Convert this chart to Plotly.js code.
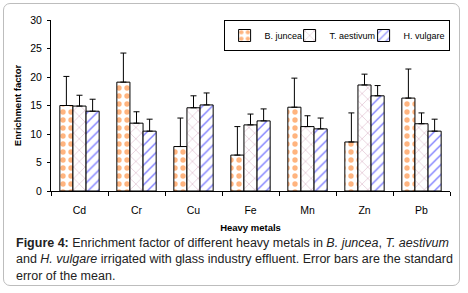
<!DOCTYPE html>
<html><head><meta charset="utf-8">
<script src="https://cdn.plot.ly/plotly-3.0.1.min.js"></script>
<style>
body{margin:0;padding:0;background:#fff;}
#wrap{position:relative;width:468px;height:293px;}
#chart{width:468px;height:293px;}
#frame{position:absolute;left:3px;top:3px;width:455px;height:281px;border:1.5px solid #bdbdbd;border-radius:7px;pointer-events:none;}
</style></head>
<body><div id="wrap"><div id="chart"></div><div id="frame"></div></div>
<script>
const metals = ['Cd','Cr','Cu','Fe','Mn','Zn','Pb'];
const bJuncea = [15.0, 19.1, 7.8, 6.3, 14.7, 8.6, 16.3];
const bJunceaErr = [5.1, 5.1, 5.0, 5.0, 5.1, 5.1, 5.1];
const tAestivum = [14.9, 11.9, 14.6, 11.6, 11.3, 18.6, 11.8];
const tAestivumErr = [1.9, 2.0, 2.1, 1.9, 1.9, 1.9, 1.9];
const hVulgare = [14.0, 10.5, 15.1, 12.3, 10.9, 16.7, 10.5];
const hVulgareErr = [2.1, 2.1, 2.1, 2.1, 1.9, 1.8, 2.1];
const zeros = metals.map(() => 0);

function series(name, y, err, color, shape, size, sol, lw) {
  return {
    type: 'bar', name: name, x: metals, y: y, legendwidth: lw,
    marker: {color: '#ffffff', line: {color: '#000', width: 1},
      pattern: {shape: shape, fgcolor: color, bgcolor: '#ffffff', size: size, solidity: sol, fillmode: 'overlay'}},
    error_y: {type: 'data', symmetric: false, array: err, arrayminus: zeros, color: '#000', thickness: 1, width: 3}
  };
}
const data = [
  series('B. juncea', bJuncea, bJunceaErr, '#ff6a00', '.', 8, 0.35, 20),
  series('T. aestivum', tAestivum, tAestivumErr, '#993366', 'x', 8, 0.1, 29),
  series('H. vulgare', hVulgare, hVulgareErr, '#0000ff', '/', 7, 0.2, 40)
];
const F = 'Liberation Sans, Arial, sans-serif';
const capFont = {family: F, size: 12.5, color: '#222'};
const layout = {
  width: 468, height: 293,
  margin: {l: 51, r: 18, t: 20, b: 102},
  paper_bgcolor: '#fff', plot_bgcolor: '#fff',
  barmode: 'group', bargap: 0.31, bargroupgap: 0,
  showlegend: true,
  legend: {orientation: 'h', x: 0.999, xanchor: 'right', y: 1.0, yanchor: 'top',
    bordercolor: '#000', borderwidth: 1, bgcolor: '#fff',
    font: {family: F, size: 9, color: '#000'}, itemwidth: 30, traceorder: 'normal'},
  xaxis: {type: 'category', showline: true, linecolor: '#000', linewidth: 1,
    ticks: 'outside', tickson: 'boundaries', ticklen: 4, tickcolor: '#000',
    ticklabelstandoff: 9,
    tickfont: {family: F, size: 10.5, color: '#000'}, showgrid: false,
    title: {text: '<b>Heavy metals</b>', font: {family: F, size: 9.5, color: '#000'}, standoff: 9}},
  yaxis: {range: [0, 30], dtick: 5, showline: true, linecolor: '#000', linewidth: 1,
    ticks: 'outside', ticklen: 3, tickcolor: '#000', showgrid: false, zeroline: false,
    ticklabelstandoff: 3,
    tickfont: {family: F, size: 10.5, color: '#000'},
    title: {text: '<b>Enrichment factor</b>', font: {family: F, size: 9.5, color: '#000'}, standoff: 6}},
  annotations: [
    {xref: 'paper', yref: 'paper', x: -0.0927, y: -0.4006, xanchor: 'left', yanchor: 'middle', showarrow: false, align: 'left', font: capFont,
      text: '<b>Figure 4:</b> Enrichment factor of different heavy metals in <i>B. juncea</i>, <i>T. aestivum</i><br>and <i>H. vulgare</i> irrigated with glass industry effluent. Error bars are the standard<br>error of the mean.'}
  ]
};
Plotly.newPlot('chart', data, layout, {displayModeBar: false, staticPlot: true});
</script></body></html>
